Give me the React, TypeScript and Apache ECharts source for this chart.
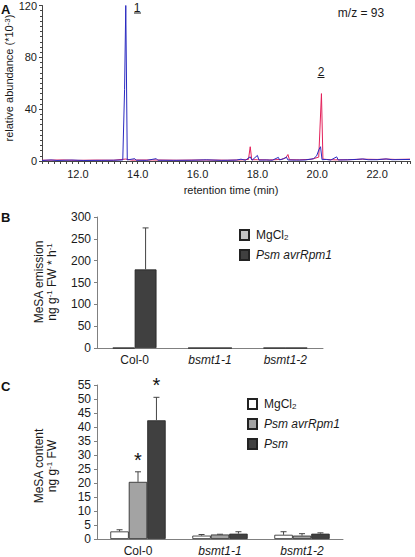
import React, { useEffect, useRef } from "react";
import * as echarts from "echarts";

// ---------- Panel A: chromatogram traces [retention time (min), abundance *10^-3] ----------
const blueTrace: [number, number][] = [
  [10.8, 0.4], [11.1, 0.8], [11.3, 0.4], [11.8, 0.7], [12.2, 0.4], [12.8, 0.5], [13.2, 0.6],
  [13.5, 0.8], [13.56, 55], [13.6, 120], [13.65, 0.8], [13.9, 1.8], [13.95, 0.6], [14.3, 0.5],
  [14.62, 1.8], [14.67, 0.6], [15.2, 0.5], [15.8, 0.6], [16.3, 0.9], [16.8, 0.5], [17.3, 0.7],
  [17.45, 1.4], [17.6, 0.6], [17.72, 2.6], [17.76, 3.2], [17.82, 0.6], [18.0, 4.3], [18.05, 0.7],
  [18.3, 0.8], [18.5, 0.6], [18.7, 2.8], [18.74, 0.8], [18.88, 1.8], [18.97, 3.0], [19.02, 0.8],
  [19.3, 0.7], [19.6, 0.8], [19.88, 1.8], [19.98, 4], [20.06, 9], [20.11, 11], [20.16, 1],
  [20.3, 1.2], [20.45, 0.7], [20.65, 3.2], [20.7, 0.8], [21.0, 0.9], [21.3, 1.2], [21.52, 1.6],
  [21.7, 1.0], [22.0, 1.0], [22.3, 1.6], [22.5, 1.0], [22.8, 1.1], [23.1, 1.2],
];
const redTrace: [number, number][] = [
  [10.8, 0.6], [11.5, 0.8], [12.0, 0.5], [12.6, 0.7], [13.2, 0.6], [13.6, 1.5], [13.8, 0.7],
  [14.5, 0.8], [15.3, 0.6], [16.2, 0.8], [17.0, 0.6], [17.5, 0.9], [17.7, 1.2], [17.76, 11],
  [17.81, 1.0], [18.0, 1.0], [18.4, 0.8], [18.8, 1.2], [18.95, 2.5], [19.02, 5.0], [19.07, 1.0],
  [19.4, 0.9], [19.8, 1.3], [20.05, 3], [20.14, 52], [20.19, 1.5], [20.3, 1.2], [20.6, 0.9],
  [21.0, 1.0], [21.5, 1.4], [22.0, 1.2], [22.3, 1.5], [22.6, 1.2], [23.1, 1.4],
];
const aYTicks = [0, 40, 80, 120];
const aXLabels = [12, 14, 16, 18, 20, 22];

// ---------- Panel B: MeSA emission ----------
const bCategories = ["Col-0", "bsmt1-1", "bsmt1-2"];
const bMgCl2 = [0, 0, 0];
const bMgCl2Err = [0, 0, 0];
const bPsmAvr = [180, 0, 0];
const bPsmAvrErr = [95, 0, 0];

// ---------- Panel C: MeSA content ----------
const cCategories = ["Col-0", "bsmt1-1", "bsmt1-2"];
const cMgCl2 = [2.7, 1.2, 1.5];
const cMgCl2Err = [0.6, 0.4, 1.1];
const cPsmAvr = [20.4, 1.6, 1.2];
const cPsmAvrErr = [3.6, 0.1, 0.7];
const cPsm = [42.4, 1.9, 1.9];
const cPsmErr = [8.2, 0.7, 0.3];
const cPsmAvrSig = [true, false, false];
const cPsmSig = [true, false, false];

const FONT = "'Liberation Sans', Arial, sans-serif";
const TXT = "#1a1a1a";
const AXIS_GREY = "#808080";

const supRich = {
  sup: { fontSize: 8, verticalAlign: "top", lineHeight: 9, fontFamily: FONT, fill: TXT },
  sub: { fontSize: 8, verticalAlign: "bottom", lineHeight: 9, fontFamily: FONT, fill: TXT },
  i: { fontStyle: "italic", fontFamily: FONT, fill: TXT },
};

function errorSeries(
  name: string, xAxisIndex: number, yAxisIndex: number,
  values: number[], errs: number[], sig: boolean[] | null,
  slot: number, nSlots: number, widthFrac: number
) {
  return {
    type: "custom",
    name,
    xAxisIndex,
    yAxisIndex,
    z: 5,
    silent: true,
    encode: { x: 0, y: 1 },
    data: values.map((v, i) => [i, v, errs[i], sig && sig[i] ? 1 : 0]),
    renderItem: (params: any, api: any) => {
      const ci = api.value(0);
      const v = api.value(1);
      const e = api.value(2);
      const s = api.value(3);
      const bw = api.size([1, 0])[0] * widthFrac;
      const base = api.coord([ci, v]);
      const x = base[0] + (slot - (nSlots - 1) / 2) * bw;
      const top = api.coord([ci, v + e])[1];
      const children: any[] = [];
      if (e > 0) {
        children.push({
          type: "line",
          shape: { x1: x, y1: base[1], x2: x, y2: top },
          style: { stroke: "#444", lineWidth: 1 },
        });
        children.push({
          type: "line",
          shape: { x1: x - 3, y1: top, x2: x + 3, y2: top },
          style: { stroke: "#444", lineWidth: 1 },
        });
      }
      if (s) {
        children.push({
          type: "text",
          style: {
            text: "*", x, y: top - 2, align: "center", verticalAlign: "bottom",
            fontSize: 20, fontFamily: FONT, fill: "#111",
          },
        });
      }
      return { type: "group", children };
    },
  };
}

function barSeries(name: string, xAxisIndex: number, yAxisIndex: number, data: number[], color: string, width: string) {
  return {
    type: "bar",
    name,
    xAxisIndex,
    yAxisIndex,
    data,
    barWidth: width,
    barGap: "0%",
    itemStyle: { color, borderColor: "#222", borderWidth: 0.8 },
  };
}

const legendNames: Record<string, string> = {
  "B-MgCl2": "MgCl{sub|2}",
  "B-Psm avrRpm1": "{i|Psm avrRpm1}",
  "C-MgCl2": "MgCl{sub|2}",
  "C-Psm avrRpm1": "{i|Psm avrRpm1}",
  "C-Psm": "{i|Psm}",
};

function catLabel(v: string) {
  return v.startsWith("bsmt") ? `{i|${v}}` : v;
}

export default function App() {
  const ref = useRef<HTMLDivElement>(null);
  useEffect(() => {
    if (!ref.current) return;
    const chart = echarts.init(ref.current, undefined, { renderer: "svg" });
    const legendCommon = {
      orient: "vertical",
      icon: "rect",
      padding: 0,
      itemWidth: 9,
      itemHeight: 10,
      itemGap: 8,
      formatter: (n: string) => legendNames[n] || n,
      textStyle: {
        fontSize: 12, fontFamily: FONT, color: TXT, lineHeight: 12, padding: [0, 0, 0, 2],
        rich: {
          i: { fontStyle: "italic", fontSize: 12, fontFamily: FONT, color: TXT },
          sub: { fontSize: 8, verticalAlign: "bottom", lineHeight: 8, fontFamily: FONT, color: TXT },
        },
      },
    };
    const catAxisCommon = {
      type: "category",
      boundaryGap: true,
      axisLine: { lineStyle: { color: AXIS_GREY, width: 1 } },
      axisTick: { alignWithLabel: false, length: 4, lineStyle: { color: AXIS_GREY } },
      axisLabel: {
        fontSize: 12, fontFamily: FONT, color: TXT, margin: 6, formatter: catLabel,
        rich: { i: { fontStyle: "italic", fontSize: 12, fontFamily: FONT, color: TXT } },
      },
    };
    const valAxisCommon = {
      type: "value",
      axisLine: { show: true, lineStyle: { color: AXIS_GREY, width: 1 } },
      axisTick: { show: true, length: 3, lineStyle: { color: AXIS_GREY } },
      axisLabel: { fontSize: 12, fontFamily: FONT, color: TXT, margin: 6 },
      splitLine: { show: false },
    };
    const option: any = {
      animation: false,
      backgroundColor: "#ffffff",
      textStyle: { fontFamily: FONT },
      grid: [
        { left: 42, top: 5, width: 368, height: 156 },
        { left: 97, top: 217, width: 226, height: 131 },
        { left: 97, top: 385, width: 246, height: 155 },
      ],
      xAxis: [
        {
          type: "value",
          gridIndex: 0,
          min: 10.8,
          max: 23.1,
          interval: 0.2,
          axisLine: { show: true, onZero: false, lineStyle: { color: "#444", width: 1 } },
          axisTick: { show: true, length: 3, lineStyle: { color: "#444" } },
          splitLine: { show: false },
          axisLabel: {
            fontSize: 11, fontFamily: FONT, color: TXT, margin: 7, showMinLabel: true, showMaxLabel: true,
            formatter: (v: number) => {
              const r = Math.round(v);
              return Math.abs(v - r) < 1e-6 && aXLabels.includes(r) ? r.toFixed(1) : "";
            },
          },
        },
        { ...catAxisCommon, gridIndex: 1, data: bCategories },
        { ...catAxisCommon, gridIndex: 2, data: cCategories },
      ],
      yAxis: [
        {
          type: "value",
          gridIndex: 0,
          min: aYTicks[0],
          max: aYTicks[aYTicks.length - 1],
          interval: 40,
          axisLine: { show: true, lineStyle: { color: "#444", width: 1 } },
          axisTick: { show: true, length: 3, lineStyle: { color: "#444" } },
          minorTick: { show: true, splitNumber: 10, length: 2, lineStyle: { color: "#444" } },
          axisLabel: { fontSize: 11, fontFamily: FONT, color: TXT, margin: 5 },
          splitLine: { show: false },
        },
        { ...valAxisCommon, gridIndex: 1, min: 0, max: 300, interval: 50 },
        { ...valAxisCommon, gridIndex: 2, min: 0, max: 55, interval: 5 },
      ],
      legend: [
        { ...legendCommon, left: 239, top: 229, data: ["B-MgCl2", "B-Psm avrRpm1"] },
        { ...legendCommon, left: 247, top: 398, data: ["C-MgCl2", "C-Psm avrRpm1", "C-Psm"] },
      ],
      series: [
        {
          type: "line", name: "red", xAxisIndex: 0, yAxisIndex: 0, data: redTrace,
          showSymbol: false, symbol: "none", lineStyle: { color: "#e3205a", width: 1 }, z: 2,
        },
        {
          type: "line", name: "blue", xAxisIndex: 0, yAxisIndex: 0, data: blueTrace,
          showSymbol: false, symbol: "none", lineStyle: { color: "#2a2ac0", width: 1 }, z: 3,
        },
        barSeries("B-MgCl2", 1, 1, bMgCl2, "#c4c4c4", "29%"),
        barSeries("B-Psm avrRpm1", 1, 1, bPsmAvr, "#404040", "29%"),
        errorSeries("B-err-MgCl2", 1, 1, bMgCl2, bMgCl2Err, null, 0, 2, 0.29),
        errorSeries("B-err-Psm avrRpm1", 1, 1, bPsmAvr, bPsmAvrErr, null, 1, 2, 0.29),
        barSeries("C-MgCl2", 2, 2, cMgCl2, "#ffffff", "22.5%"),
        barSeries("C-Psm avrRpm1", 2, 2, cPsmAvr, "#a3a3a3", "22.5%"),
        barSeries("C-Psm", 2, 2, cPsm, "#404040", "22.5%"),
        errorSeries("C-err-MgCl2", 2, 2, cMgCl2, cMgCl2Err, null, 0, 3, 0.225),
        errorSeries("C-err-Psm avrRpm1", 2, 2, cPsmAvr, cPsmAvrErr, cPsmAvrSig, 1, 3, 0.225),
        errorSeries("C-err-Psm", 2, 2, cPsm, cPsmErr, cPsmSig, 2, 3, 0.225),
      ],
      graphic: [
        { type: "text", left: 1, top: 3, style: { text: "A", fontSize: 13, fontWeight: "bold", fontFamily: FONT, fill: "#111" } },
        { type: "text", left: 1, top: 211, style: { text: "B", fontSize: 13, fontWeight: "bold", fontFamily: FONT, fill: "#111" } },
        { type: "text", left: 1, top: 380, style: { text: "C", fontSize: 13, fontWeight: "bold", fontFamily: FONT, fill: "#111" } },
        { type: "text", x: 361, y: 13, style: { text: "m/z = 93", fontSize: 12, fontFamily: FONT, fill: TXT, align: "center", verticalAlign: "middle" } },
        { type: "text", x: 137, y: 8, style: { text: "1", fontSize: 12, fontFamily: FONT, fill: TXT, align: "center", verticalAlign: "middle" } },
        { type: "line", shape: { x1: 134, y1: 13, x2: 141, y2: 13 }, style: { stroke: TXT, lineWidth: 1 } },
        { type: "text", x: 321, y: 72, style: { text: "2", fontSize: 12, fontFamily: FONT, fill: TXT, align: "center", verticalAlign: "middle" } },
        { type: "line", shape: { x1: 317.5, y1: 77.5, x2: 324.5, y2: 77.5 }, style: { stroke: TXT, lineWidth: 1 } },
        {
          type: "text", x: 9, y: 78, rotation: Math.PI / 2,
          style: {
            text: "relative abundance (*10{sup|-3})", fontSize: 11, fontFamily: FONT, fill: TXT,
            align: "center", verticalAlign: "middle", rich: supRich,
          },
        },
        { type: "text", x: 231, y: 190, style: { text: "retention time (min)", fontSize: 11, fontFamily: FONT, fill: TXT, align: "center", verticalAlign: "middle" } },
        {
          type: "text", x: 45, y: 282, rotation: Math.PI / 2,
          style: {
            text: "MeSA emission\nng g{sup|-1} FW * h{sup|-1}", fontSize: 12, lineHeight: 13, fontFamily: FONT, fill: TXT,
            align: "center", verticalAlign: "middle", rich: supRich,
          },
        },
        {
          type: "text", x: 45, y: 466, rotation: Math.PI / 2,
          style: {
            text: "MeSA content\nng g{sup|-1} FW", fontSize: 12, lineHeight: 13, fontFamily: FONT, fill: TXT,
            align: "center", verticalAlign: "middle", rich: supRich,
          },
        },
      ],
    };
    chart.setOption(option);
    return () => chart.dispose();
  }, []);
  return (
    <div
      ref={ref}
      style={{ position: "fixed", left: 0, top: 0, width: 415, height: 557, background: "#fff" }}
    />
  );
}
